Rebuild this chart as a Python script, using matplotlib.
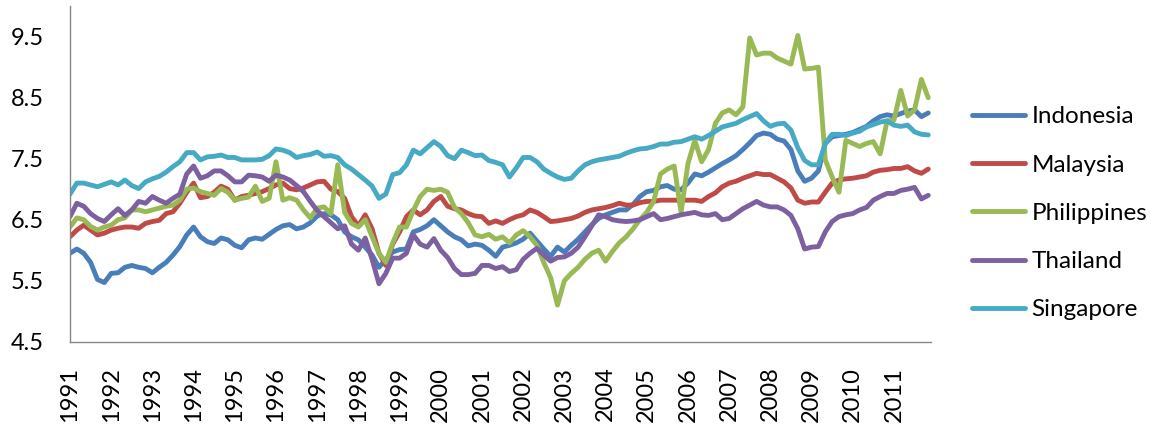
import numpy as np
import matplotlib.pyplot as plt

# bimonthly observations, Jan 1991 .. Nov 2011
months = np.arange(0, 252, 2)

indonesia = [
    5.95, 6.02, 5.95, 5.80, 5.52, 5.47,
    5.62, 5.63, 5.72, 5.75, 5.72, 5.70,
    5.63, 5.72, 5.80, 5.92, 6.06, 6.25,
    6.38, 6.22, 6.14, 6.11, 6.20, 6.17,
    6.08, 6.04, 6.17, 6.20, 6.18, 6.26,
    6.34, 6.40, 6.42, 6.35, 6.38, 6.45,
    6.56, 6.60, 6.58, 6.50, 6.30, 6.22,
    6.17, 6.05, 5.92, 5.72, 5.85, 5.97,
    6.01, 6.02, 6.30, 6.34, 6.40, 6.50,
    6.40, 6.30, 6.22, 6.17, 6.07, 6.10,
    6.08, 6.00, 5.90, 6.05, 6.08, 6.12,
    6.18, 6.28, 6.15, 6.02, 5.90, 6.05,
    5.97, 6.08, 6.18, 6.30, 6.42, 6.52,
    6.58, 6.62, 6.66, 6.66, 6.75, 6.88,
    6.96, 6.98, 7.04, 7.06, 7.00, 6.99,
    7.10, 7.25, 7.22, 7.28, 7.35, 7.42,
    7.48, 7.55, 7.65, 7.76, 7.88, 7.92,
    7.90, 7.82, 7.79, 7.65, 7.30, 7.13,
    7.18, 7.30, 7.75, 7.86, 7.88, 7.90,
    7.93, 7.98, 8.03, 8.12, 8.19, 8.22,
    8.20, 8.24, 8.28, 8.30, 8.19, 8.25,
]

malaysia = [
    6.22, 6.33, 6.41, 6.33, 6.25, 6.28,
    6.33, 6.36, 6.38, 6.38, 6.36, 6.44,
    6.47, 6.49, 6.60, 6.63, 6.77, 6.95,
    7.10, 6.86, 6.88, 6.95, 7.05, 7.00,
    6.82, 6.88, 6.90, 6.93, 6.96, 7.01,
    7.07, 7.10, 7.01, 6.99, 7.02, 7.07,
    7.12, 7.13, 7.00, 6.96, 6.85, 6.55,
    6.40, 6.58, 6.35, 5.95, 5.75, 6.10,
    6.30, 6.55, 6.66, 6.58, 6.66, 6.80,
    6.88, 6.72, 6.68, 6.66, 6.60, 6.56,
    6.55, 6.44, 6.48, 6.44, 6.50, 6.55,
    6.58, 6.66, 6.62, 6.55, 6.47, 6.48,
    6.50, 6.52, 6.56, 6.62, 6.66, 6.68,
    6.70, 6.73, 6.77, 6.74, 6.74, 6.78,
    6.80, 6.80, 6.82, 6.82, 6.82, 6.82,
    6.82, 6.82, 6.80, 6.88, 6.94, 7.04,
    7.10, 7.13, 7.18, 7.22, 7.26, 7.24,
    7.24, 7.18, 7.12, 7.02, 6.82, 6.77,
    6.79, 6.79, 6.95, 7.10, 7.15, 7.17,
    7.18, 7.20, 7.22, 7.28, 7.31, 7.32,
    7.34, 7.34, 7.37, 7.30, 7.26, 7.33,
]

philippines = [
    6.38, 6.53, 6.50, 6.39, 6.33, 6.38,
    6.41, 6.50, 6.53, 6.66, 6.66, 6.63,
    6.66, 6.69, 6.72, 6.74, 6.82, 7.00,
    7.02, 6.96, 6.93, 6.90, 7.01, 6.95,
    6.82, 6.85, 6.87, 7.05, 6.80, 6.85,
    7.45, 6.82, 6.86, 6.82, 6.66, 6.53,
    6.69, 6.71, 6.60, 7.40, 6.62, 6.44,
    6.38, 6.50, 6.22, 5.95, 5.80, 6.12,
    6.38, 6.38, 6.65, 6.88, 7.00, 6.98,
    7.00, 6.95, 6.70, 6.60, 6.45, 6.25,
    6.22, 6.26, 6.18, 6.22, 6.12, 6.25,
    6.32, 6.22, 6.08, 5.80, 5.55, 5.10,
    5.50, 5.62, 5.72, 5.85, 5.95, 6.00,
    5.82, 5.98, 6.12, 6.22, 6.35, 6.50,
    6.62, 6.80, 7.25, 7.33, 7.38, 6.62,
    7.42, 7.80, 7.45, 7.65, 8.08, 8.25,
    8.30, 8.22, 8.35, 9.48, 9.20, 9.23,
    9.23, 9.15, 9.10, 9.05, 9.52, 8.97,
    8.98, 9.00, 7.48, 7.20, 6.95, 7.80,
    7.75, 7.70, 7.75, 7.78, 7.58, 8.12,
    8.13, 8.62, 8.20, 8.30, 8.80, 8.50,
]

thailand = [
    6.55, 6.77, 6.72, 6.60, 6.52, 6.47,
    6.58, 6.68, 6.57, 6.66, 6.80, 6.77,
    6.88, 6.82, 6.77, 6.85, 6.92, 7.25,
    7.38, 7.18, 7.22, 7.30, 7.30, 7.22,
    7.12, 7.12, 7.23, 7.22, 7.20, 7.13,
    7.23, 7.20, 7.15, 7.06, 6.96, 6.80,
    6.65, 6.55, 6.45, 6.35, 6.40, 6.10,
    6.00, 6.20, 5.85, 5.45, 5.62, 5.87,
    5.87, 5.95, 6.25, 6.10, 6.05, 6.19,
    6.00, 5.88, 5.70, 5.60, 5.60, 5.62,
    5.75, 5.75, 5.70, 5.73, 5.65, 5.68,
    5.85, 5.95, 6.03, 5.92, 5.82, 5.88,
    5.89, 5.95, 6.05, 6.22, 6.40, 6.58,
    6.55, 6.50, 6.48, 6.47, 6.48, 6.50,
    6.55, 6.60, 6.50, 6.52, 6.55, 6.58,
    6.60, 6.62, 6.58, 6.57, 6.60, 6.50,
    6.52, 6.60, 6.68, 6.74, 6.80, 6.74,
    6.71, 6.71, 6.66, 6.57, 6.35, 6.02,
    6.05, 6.06, 6.30, 6.47, 6.55, 6.58,
    6.60, 6.66, 6.70, 6.82, 6.88, 6.93,
    6.93, 6.98, 7.00, 7.03, 6.84, 6.90,
]

singapore = [
    6.92, 7.10, 7.10, 7.07, 7.04, 7.08,
    7.12, 7.07, 7.15, 7.06, 7.01, 7.12,
    7.17, 7.21, 7.28, 7.37, 7.45, 7.60,
    7.60, 7.48, 7.53, 7.54, 7.56, 7.52,
    7.52, 7.48, 7.48, 7.48, 7.49, 7.55,
    7.66, 7.64, 7.60, 7.52, 7.55, 7.57,
    7.61, 7.54, 7.55, 7.52, 7.40, 7.33,
    7.24, 7.15, 7.05, 6.85, 6.92, 7.24,
    7.27, 7.40, 7.64, 7.58, 7.68, 7.78,
    7.70, 7.55, 7.50, 7.64, 7.60, 7.55,
    7.56, 7.47, 7.44, 7.40, 7.20, 7.35,
    7.52, 7.52, 7.45, 7.33, 7.26, 7.20,
    7.16, 7.18, 7.30, 7.40, 7.45, 7.48,
    7.50, 7.52, 7.54, 7.59, 7.63, 7.66,
    7.67, 7.70, 7.74, 7.74, 7.77, 7.78,
    7.82, 7.86, 7.82, 7.88, 7.95, 8.02,
    8.05, 8.08, 8.14, 8.19, 8.24, 8.12,
    8.03, 8.07, 8.08, 7.97, 7.68, 7.47,
    7.40, 7.40, 7.75, 7.90, 7.90, 7.88,
    7.92, 7.95, 8.02, 8.06, 8.10, 8.12,
    8.05, 8.03, 8.05, 7.94, 7.90, 7.89,
]

names = ["Indonesia", "Malaysia", "Philippines", "Thailand", "Singapore"]
series = [indonesia, malaysia, philippines, thailand, singapore]
colors = ["#4A7EBB", "#BE4B48", "#98B954", "#7D60A0", "#46AAC5"]

years = np.arange(1991, 2012)
yticks = [4.5, 5.5, 6.5, 7.5, 8.5, 9.5]

plt.rcParams["font.family"] = ["Lato", "DejaVu Sans"]

fig = plt.figure(figsize=(11.6, 4.24), dpi=100)
ax = fig.add_axes([70 / 1160, 1 - 341.7 / 424, 861 / 1160, 335.5 / 424])

t = 1991 + months / 12
for name, vals, c in zip(names, series, colors):
    ax.plot(t, vals, color=c, lw=3.5, label=name,
            solid_joinstyle="round", solid_capstyle="round")

ax.set_xlim(1991, 2011.9)
ax.set_ylim(4.5, 10.0)
ax.set_yticks(yticks)
ax.set_yticklabels([f"{v:.1f}" for v in yticks])
ax.set_xticks(years)
ax.set_xticklabels([str(y) for y in years], rotation=90)
ax.tick_params(axis="y", length=0, pad=19, labelsize=17)
ax.tick_params(axis="x", length=0, pad=18, labelsize=17)

for side in ["top", "right"]:
    ax.spines[side].set_visible(False)
for side in ["left", "bottom"]:
    ax.spines[side].set_color("#868686")
    ax.spines[side].set_linewidth(1.0)

fig.legend(loc="center left", bbox_to_anchor=(972 / 1160, 1 - 213.3 / 424),
           frameon=False, fontsize=17.5, handlelength=2.2, handletextpad=0.25,
           labelspacing=1.12, borderpad=0, borderaxespad=0)

fig.savefig("out.png", dpi=100)
